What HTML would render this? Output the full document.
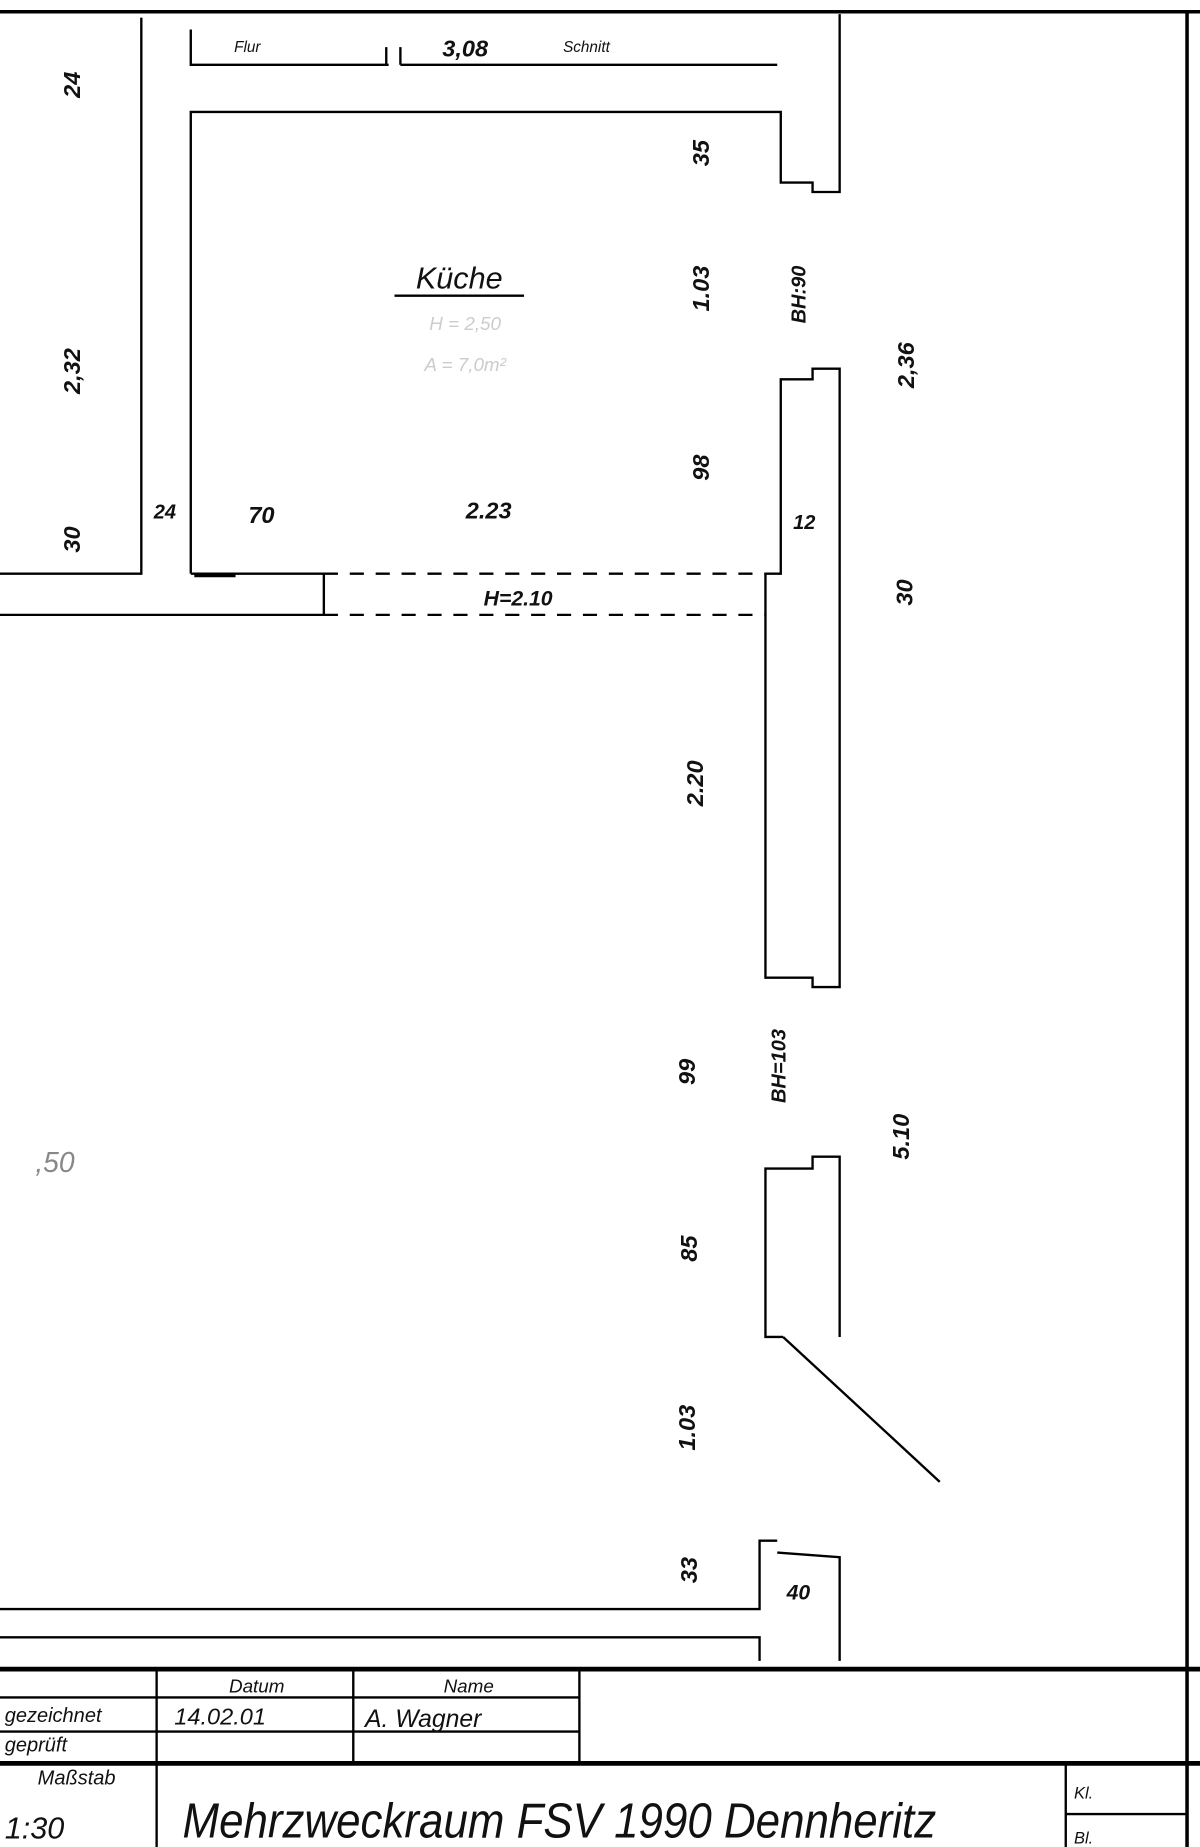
<!DOCTYPE html>
<html><head><meta charset="utf-8"><style>
html,body{margin:0;padding:0;background:#fff;width:1200px;height:1847px;overflow:hidden}
svg{display:block}
text{font-family:"Liberation Sans",sans-serif;font-style:italic;fill:#111}
</style></head><body>
<svg width="1200" height="1847" viewBox="0 0 1019 1568" preserveAspectRatio="none" xmlns="http://www.w3.org/2000/svg">
<g stroke="#000" stroke-width="2" fill="none">
<line x1="0" y1="10" x2="1019" y2="10" stroke-width="3"/>
<line x1="1008" y1="10" x2="1008" y2="1568" stroke-width="3"/>
<polyline points="120,15 120,487 0,487"/>
<polyline points="162,25 162,55 330,55"/>
<line x1="340" y1="55" x2="660" y2="55"/>
<line x1="328" y1="40" x2="328" y2="55"/><line x1="340" y1="40" x2="340" y2="55"/>
<polyline points="162,487 162,95 663,95 663,155 690,155 690,163 713,163 713,12"/>
<polyline points="650,487 663,487 663,322 690,322 690,313 713,313 713,838 690,838 690,830 650,830 650,487"/>
<polyline points="162,487 275,487 275,522 0,522"/>
<line x1="275" y1="487" x2="650" y2="487" stroke-dasharray="12,10"/>
<line x1="275" y1="522" x2="650" y2="522" stroke-dasharray="12,10"/>
<line x1="165" y1="488" x2="200" y2="488" stroke-width="4"/>
<polyline points="665,1135 650,1135 650,992 690,992 690,982 713,982 713,1135"/>
<line x1="665" y1="1135" x2="798" y2="1258"/>
<polyline points="0,1366 645,1366 645,1308 660,1308"/>
<polyline points="660,1318 713,1322 713,1410"/>
<polyline points="0,1390 645,1390 645,1410"/>
<line x1="0" y1="1417" x2="1019" y2="1417" stroke-width="4"/>
<line x1="0" y1="1497" x2="1019" y2="1497" stroke-width="4"/>
<line x1="133" y1="1417" x2="133" y2="1568"/>
<line x1="300" y1="1417" x2="300" y2="1497"/>
<line x1="492" y1="1417" x2="492" y2="1497"/>
<line x1="0" y1="1441" x2="492" y2="1441"/>
<line x1="0" y1="1470" x2="492" y2="1470"/>
<line x1="905" y1="1497" x2="905" y2="1568"/>
<line x1="905" y1="1540" x2="1008" y2="1540"/>
<line x1="335" y1="251" x2="445" y2="251"/>
</g>
<g font-size="20" font-weight="bold" text-anchor="middle">
<text transform="translate(68,72) rotate(-90)">24</text>
<text transform="translate(68,315) rotate(-90)">2,32</text>
<text transform="translate(68,458) rotate(-90)">30</text>
<text transform="translate(602,130) rotate(-90)">35</text>
<text transform="translate(602,245) rotate(-90)">1.03</text>
<text transform="translate(684,250) rotate(-90)" font-size="17">BH:90</text>
<text transform="translate(776,310) rotate(-90)">2,36</text>
<text transform="translate(602,397) rotate(-90)">98</text>
<text transform="translate(775,503) rotate(-90)">30</text>
<text transform="translate(597,665) rotate(-90)">2.20</text>
<text transform="translate(590,910) rotate(-90)">99</text>
<text transform="translate(667,905) rotate(-90)" font-size="17">BH=103</text>
<text transform="translate(772,965) rotate(-90)">5.10</text>
<text transform="translate(592,1060) rotate(-90)">85</text>
<text transform="translate(590,1212) rotate(-90)">1.03</text>
<text transform="translate(592,1333) rotate(-90)">33</text>
<text x="395" y="48">3,08</text>
<text x="140" y="440" font-size="17">24</text>
<text x="222" y="444">70</text>
<text x="415" y="440">2.23</text>
<text x="683" y="449" font-size="17">12</text>
<text x="440" y="514" font-size="18">H=2.10</text>
<text x="678" y="1358" font-size="18">40</text>
<text x="390" y="245" font-size="26" font-weight="normal">Küche</text>
</g>
<g font-size="13" text-anchor="middle">
<text x="210" y="44">Flur</text>
<text x="498" y="44">Schnitt</text>
</g>
<text x="30" y="995" font-size="24" fill="#888" style="fill:#888">,50</text>
<text x="395" y="280" font-size="16" text-anchor="middle" style="fill:#ccc">H = 2,50</text>
<text x="395" y="315" font-size="16" text-anchor="middle" style="fill:#ccc">A = 7,0m²</text>
<g font-size="17" font-weight="normal">
<text x="218" y="1437" text-anchor="middle" font-size="16">Datum</text>
<text x="398" y="1437" text-anchor="middle" font-size="16">Name</text>
<text x="4" y="1462" font-size="17">gezeichnet</text>
<text x="148" y="1464" font-size="20">14.02.01</text>
<text x="310" y="1466" font-size="21">A. Wagner</text>
<text x="4" y="1487" font-size="17">geprüft</text>
<text x="32" y="1515" font-size="17">Maßstab</text>
<text x="4" y="1561" font-size="26">1:30</text>
<text x="155" y="1560" font-size="42" textLength="640" lengthAdjust="spacingAndGlyphs">Mehrzweckraum FSV 1990 Dennheritz</text>
<text x="912" y="1527" font-size="14">Kl.</text>
<text x="912" y="1565" font-size="14">Bl.</text>
</g>
</svg>
</body></html>
